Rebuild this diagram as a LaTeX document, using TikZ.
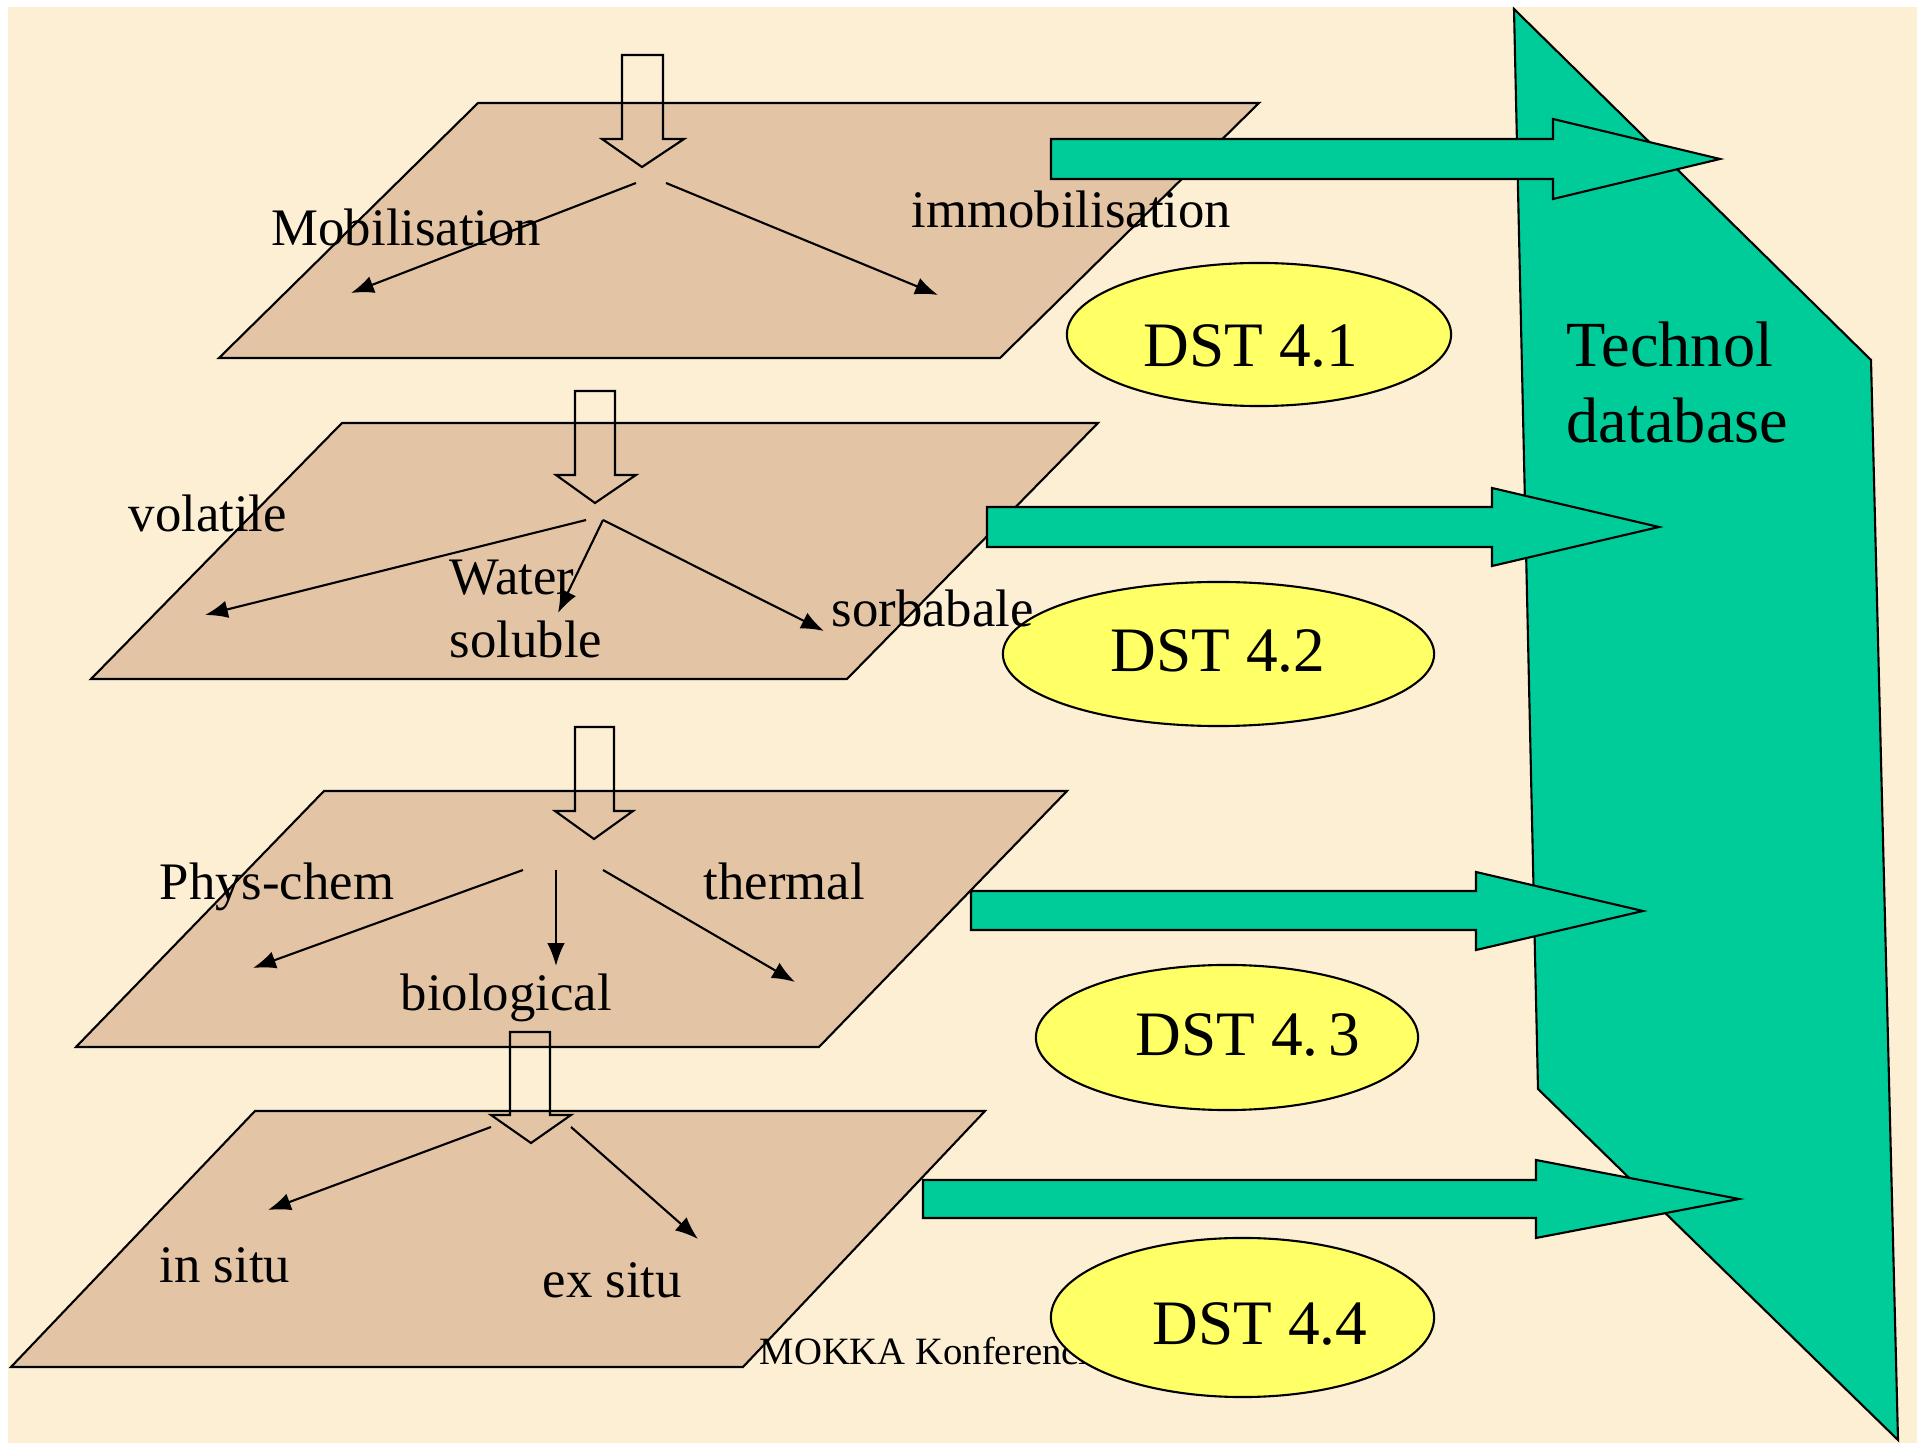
\documentclass[tikz,border=0pt]{standalone}
\usepackage{fontspec}
\setmainfont{Liberation Serif}
\usetikzlibrary{arrows.meta,shapes.geometric}
\definecolor{bgcream}{RGB}{252,239,212}
\definecolor{planetan}{RGB}{227,197,166}
\definecolor{tgreen}{RGB}{0,204,153}
\definecolor{dyellow}{RGB}{255,255,102}
\tikzset{
  planebox/.style={fill=planetan,draw=black,line width=0.6pt,line join=miter},
  hollow/.style={draw=black,line width=0.6pt},
  thinarr/.style={draw=black,line width=0.6pt,-{Latex[length=6.5pt,width=5pt]}},
  garrow/.style={fill=tgreen,draw=black,line width=0.6pt},
  lbl/.style={anchor=base west,inner sep=0pt,font=\fontsize{15}{18}\selectfont},
  biglbl/.style={anchor=base west,inner sep=0pt,font=\fontsize{18}{21}\selectfont},
  dstell/.style={ellipse,draw=black,fill=dyellow,line width=0.6pt,inner sep=0pt}
}
\begin{document}
\begin{tikzpicture}[x=0.01cm,y=-0.01cm]
\useasboundingbox (0,0) rectangle (1917,1443);
\fill[white] (0,0) rectangle (1917,1443);
\fill[bgcream] (8,7) rectangle (1917,1443);

% big database shape
\draw[garrow] (1514,9) -- (1871,360) -- (1898,1440) -- (1538,1089) -- cycle;
\node[biglbl,font=\fontsize{18.3}{21}\selectfont] (tech) at (1566,367) {Technol};
\node[biglbl,font=\fontsize{18.3}{21}\selectfont] (db) at (1566,443) {database};

% planes
\draw[planebox] (478,103) -- (1259,103) -- (1000,358) -- (219,358) -- cycle;
\draw[planebox] (342,423) -- (1098,423) -- (847,679) -- (91,679) -- cycle;
\draw[planebox] (324,791) -- (1067,791) -- (819,1047) -- (76,1047) -- cycle;
\draw[planebox] (255,1111) -- (985,1111) -- (743,1367) -- (11,1367) -- cycle;

% hollow arrows
\draw[hollow] (622,55) -- (663,55) -- (663,139) -- (684,139) -- (642,167) -- (602,139) -- (622,139) -- cycle;
\draw[hollow] (575,391) -- (615,391) -- (615,475) -- (636,475) -- (595,503) -- (556,475) -- (575,475) -- cycle;
\draw[hollow] (575,727) -- (614,727) -- (614,811) -- (633,811) -- (594,839) -- (555,811) -- (575,811) -- cycle;
\draw[hollow] (510,1032) -- (550,1032) -- (550,1115) -- (571,1115) -- (531,1143) -- (491,1115) -- (510,1115) -- cycle;

% split points and targets
\coordinate (a1s) at (636,183); \coordinate (a1l) at (351,293);
\coordinate (a1r) at (666,183); \coordinate (a1t) at (938,295);
\coordinate (a2s) at (586,520); \coordinate (a2l) at (205,615);
\coordinate (a2m) at (603,520); \coordinate (a2mt) at (558,613);
\coordinate (a2rt) at (824,631);
\coordinate (a3l) at (523,870); \coordinate (a3lt) at (253,968);
\coordinate (a3m) at (556,870); \coordinate (a3mt) at (556,966);
\coordinate (a3r) at (603,870); \coordinate (a3rt) at (795,982);
\coordinate (a4l) at (491,1127); \coordinate (a4lt) at (268,1210);
\coordinate (a4r) at (571,1127); \coordinate (a4rt) at (698,1239);

\draw[thinarr] (a1s) -- (a1l);
\draw[thinarr] (a1r) -- (a1t);
\draw[thinarr] (a2s) -- (a2l);
\draw[thinarr] (a2m) -- (a2mt);
\draw[thinarr] (a2m) -- (a2rt);
\draw[thinarr] (a3l) -- (a3lt);
\draw[thinarr] (a3m) -- (a3mt);
\draw[thinarr] (a3r) -- (a3rt);
\draw[thinarr] (a4l) -- (a4lt);
\draw[thinarr] (a4r) -- (a4rt);

% labels in planes
\node[lbl] (mob) at (271,246) {Mobilisation};
\node[lbl] (imm) at (911,228) {immobilisation};
\node[lbl] (vol) at (128,532) {volatile};
\node[lbl] (wat) at (449,595) {Water};
\node[lbl] (sol) at (449,658) {soluble};
\node[lbl] (phy) at (159,900) {Phys-chem};
\node[lbl] (the) at (703,900) {thermal};
\node[lbl] (bio) at (400,1011) {biological};
\node[lbl] (ins) at (159,1283) {in situ};
\node[lbl] (exs) at (542,1298) {ex situ};
\node[anchor=base west,inner sep=0pt,font=\fontsize{11}{13}\selectfont] (mokka) at (759,1365) {MOKKA Konferencia};

% green block arrows
\draw[garrow] (1051,139) -- (1553,139) -- (1553,119) -- (1720,159) -- (1553,199) -- (1553,179) -- (1051,179) -- cycle;
\draw[garrow] (987,507) -- (1492,507) -- (1492,488) -- (1659,527) -- (1492,566) -- (1492,547) -- (987,547) -- cycle;
\draw[garrow] (971,891) -- (1476,891) -- (1476,872) -- (1643,911) -- (1476,950) -- (1476,930) -- (971,930) -- cycle;
\draw[garrow] (923,1180) -- (1536,1180) -- (1536,1160) -- (1739,1199) -- (1536,1238) -- (1536,1218) -- (923,1218) -- cycle;

% DST ellipses
\node[dstell,minimum width=3.84cm,minimum height=1.43cm] (e1) at (1259,334.5) {};
\node[dstell,minimum width=4.31cm,minimum height=1.44cm] (e2) at (1218.5,654) {};
\node[dstell,minimum width=3.82cm,minimum height=1.45cm] (e3) at (1227,1037.5) {};
\node[dstell,minimum width=3.83cm,minimum height=1.59cm] (e4) at (1242.5,1317.5) {};
\node[biglbl] (d1) at (1143,367) {DST 4.1};
\node[biglbl] (d2) at (1110,672) {DST 4.2};
\node[biglbl] (d3) at (1135,1056) {DST 4.\hspace{0.15em}3};
\node[biglbl] (d4) at (1152,1344) {DST 4.4};

\node[lbl] (sor) at (831,627) {sorbabale};
\end{tikzpicture}
\end{document}
